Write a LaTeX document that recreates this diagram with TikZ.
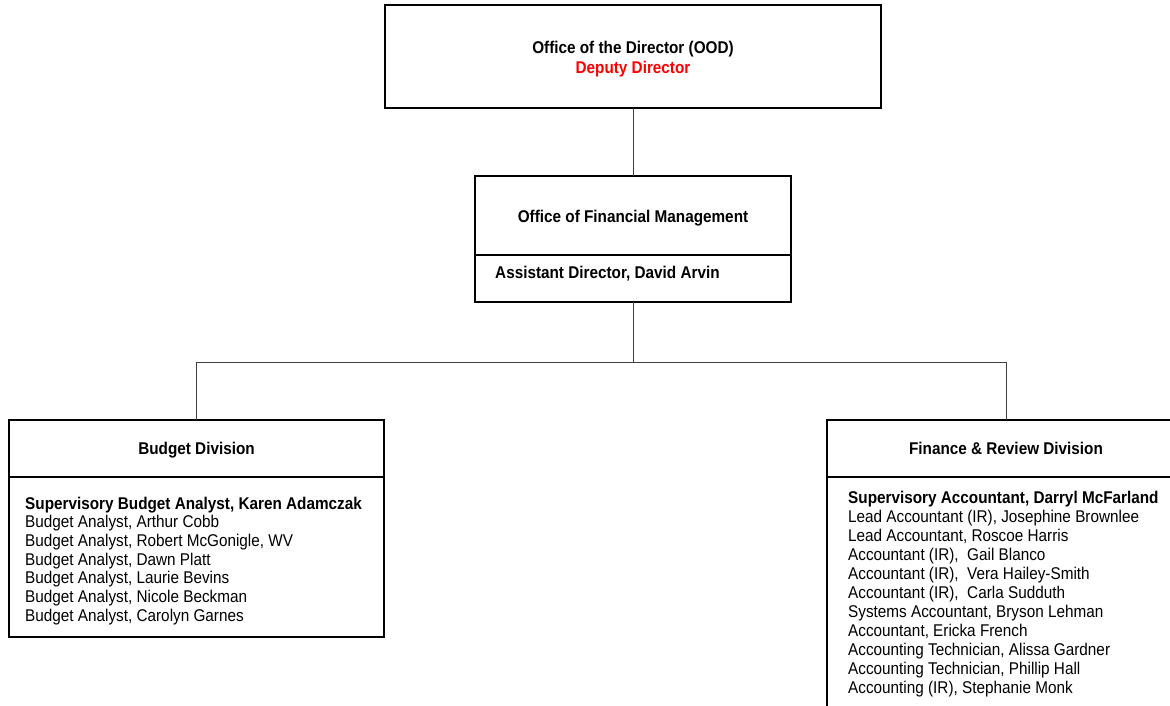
\documentclass[tikz,border=0pt]{standalone}
\usepackage{fontspec}
\setmainfont{Liberation Sans}[FakeStretch=0.9]
\begin{document}
\begin{tikzpicture}[x=1pt,y=-1pt,
  frame/.style={draw=black, line width=2.8pt, inner sep=0pt, outer sep=0pt},
  conn/.style={draw=black!75, line width=0.9pt},
  lbl/.style={inner sep=0pt, anchor=base, font=\fontsize{17}{19}\selectfont\bfseries},
  item/.style={inner sep=0pt, anchor=base west, font=\fontsize{17}{19}\selectfont},
  itemb/.style={item, font=\fontsize{17}{19}\selectfont\bfseries},
]
\clip (0,0) rectangle (1170,706);
\fill[white] (0,0) rectangle (1170,706);

% boxes
\node[frame, minimum width=496pt, minimum height=103pt] (ood) at (633,56.5) {};
\node[frame, minimum width=316pt, minimum height=79pt] (omft) at (633,215.5) {};
\node[frame, minimum width=316pt, minimum height=47pt] (omfb) at (633,278.5) {};
\node[frame, minimum width=375pt, minimum height=57pt] (bdt) at (196.5,448.5) {};
\node[frame, minimum width=375pt, minimum height=160pt] (bdb) at (196.5,557) {};
\node[frame, minimum width=358pt, minimum height=57pt] (frt) at (1006,448.5) {};
\node[frame, minimum width=358pt, minimum height=250pt] (frb) at (1006,602) {};

% connectors
\coordinate (busM) at (633,362);
\coordinate (busL) at (196.5,362);
\coordinate (busR) at (1006,362);
\draw[conn] (ood.south) -- (omft.north);
\draw[conn] (omfb.south) -- (busM);
\draw[conn] (bdt.north) -- (busL) -- (busR) -- (frt.north);

% texts
\node[lbl] (oodname) at (633,53.1) {Office of the Director (OOD)};
\node[lbl, text=red] (dep) at (633,73.1) {Deputy Director};
\node[lbl] (omfname) at (633,222.3) {Office of Financial Management};
\node[lbl, anchor=base west] (ad) at (495,278.3) {Assistant Director, David Arvin};
\node[lbl] (bdname) at (196.5,454.8) {Budget Division};
\node[lbl] (frname) at (1006,454.3) {Finance \& Review Division};

\node[itemb] (b0) at (25,509.1) {Supervisory Budget Analyst, Karen Adamczak};
\foreach \t [count=\i] in {{Budget Analyst, Arthur Cobb},{Budget Analyst, Robert McGonigle, WV},{Budget Analyst, Dawn Platt},{Budget Analyst, Laurie Bevins},{Budget Analyst, Nicole Beckman},{Budget Analyst, Carolyn Garnes}}
  \node[item] (b\i) at (25,509.1+18.67*\i) {\t};

\node[itemb] (f0) at (848,503.1) {Supervisory Accountant, Darryl McFarland};
\foreach \t [count=\i] in {{Lead Accountant (IR), Josephine Brownlee},{Lead Accountant, Roscoe Harris},{Accountant (IR),\ \ Gail Blanco},{Accountant (IR),\ \ Vera Hailey-Smith},{Accountant (IR),\ \ Carla Sudduth},{Systems Accountant, Bryson Lehman},{Accountant, Ericka French},{Accounting Technician, Alissa Gardner},{Accounting Technician, Phillip Hall},{Accounting (IR), Stephanie Monk}}
  \node[item] (f\i) at (848,503.1+19*\i) {\t};
\end{tikzpicture}
\end{document}
